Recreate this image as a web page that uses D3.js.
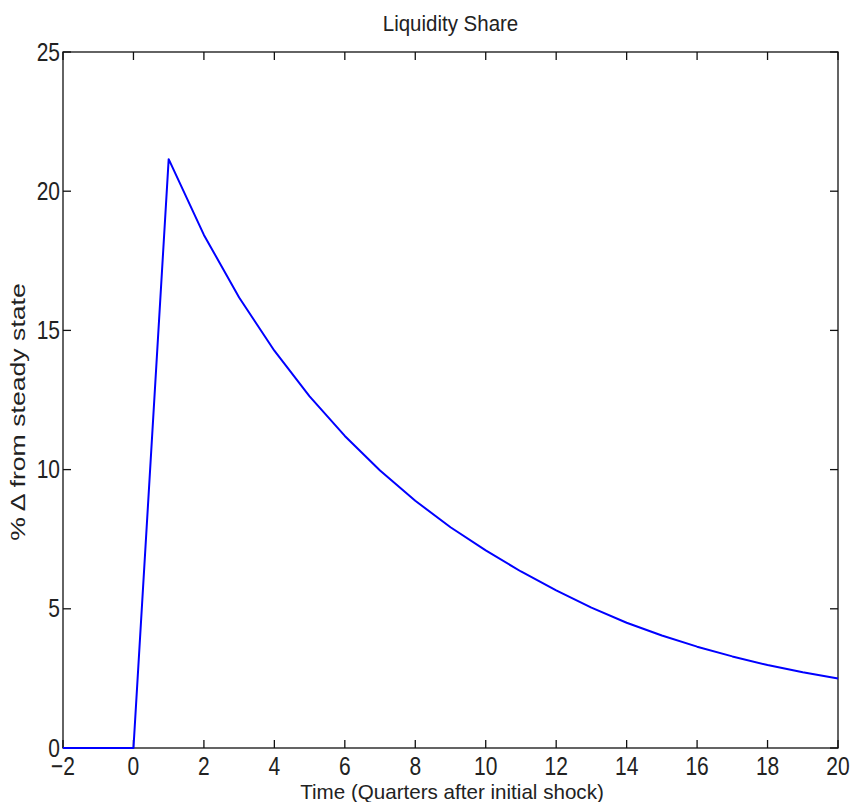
<!DOCTYPE html>
<html>
<head>
<meta charset="utf-8">
<script src="https://cdn.jsdelivr.net/npm/d3@7"></script>
<style>
  html, body { margin: 0; padding: 0; background: #fff; }
  svg { display: block; }
  text { font-family: "Liberation Sans", Arial, Helvetica, sans-serif; fill: #222; }
</style>
</head>
<body>
<svg id="chart" width="850" height="802"></svg>
<script>
const title = "Liquidity Share";
const xLabel = "Time (Quarters after initial shock)";
const yLabel = "% \u0394 from steady state";
const quarters = [-2, -1, 0, 1, 2, 3, 4, 5, 6, 7, 8, 9, 10, 11, 12, 13, 14, 15, 16, 17, 18, 19, 20];
const liquidityShare = [0, 0, 0, 21.15, 18.43, 16.18, 14.27, 12.63, 11.21, 9.97, 8.88, 7.93, 7.1, 6.34, 5.66, 5.04, 4.5, 4.04, 3.64, 3.29, 2.98, 2.72, 2.5];
const xTicks = [-2, 0, 2, 4, 6, 8, 10, 12, 14, 16, 18, 20];
const yTicks = [0, 5, 10, 15, 20, 25];

const svg = d3.select("#chart");
const L = 63, R = 838, T = 52, B = 748;
const x = d3.scaleLinear().domain([-2, 20]).range([L, R]);
const y = d3.scaleLinear().domain([0, 25]).range([B, T]);
const tickLen = 8;

// frame
svg.append("rect").attr("x", L).attr("y", T).attr("width", R - L).attr("height", B - T)
  .attr("fill", "none").attr("stroke", "#111").attr("stroke-width", 1.3);

// ticks
const tg = svg.append("g").attr("stroke", "#111").attr("stroke-width", 1.3);
xTicks.forEach(t => {
  const px = x(t);
  tg.append("line").attr("x1", px).attr("x2", px).attr("y1", B).attr("y2", B - tickLen);
  tg.append("line").attr("x1", px).attr("x2", px).attr("y1", T).attr("y2", T + tickLen);
});
yTicks.forEach(t => {
  const py = y(t);
  tg.append("line").attr("x1", L).attr("x2", L + tickLen).attr("y1", py).attr("y2", py);
  tg.append("line").attr("x1", R).attr("x2", R - tickLen).attr("y1", py).attr("y2", py);
});

// tick labels (slightly tall glyphs, like the reference)
const sy = 1.22;
xTicks.forEach(t => {
  svg.append("text")
    .attr("transform", `translate(${x(t)},${775}) scale(1,${sy})`)
    .attr("text-anchor", "middle")
    .attr("font-size", 21)
    .text(t < 0 ? "\u2212" + Math.abs(t) : t);
});
yTicks.forEach(t => {
  svg.append("text")
    .attr("transform", `translate(${L - 3},${y(t) + 8.5}) scale(1,${sy})`)
    .attr("text-anchor", "end")
    .attr("font-size", 21)
    .text(t);
});

// title
svg.append("text")
  .attr("transform", `translate(${(L + R) / 2},${31}) scale(1,1.12)`)
  .attr("text-anchor", "middle").attr("font-size", 20.5)
  .text(title);

// x label
svg.append("text")
  .attr("x", 452).attr("y", 799)
  .attr("text-anchor", "middle").attr("font-size", 20.6)
  .text(xLabel);

// y label
svg.append("text")
  .attr("transform", `translate(${25},${412}) rotate(-90) scale(1.3,1)`)
  .attr("text-anchor", "middle").attr("font-size", 20.5)
  .text(yLabel);

// line
const data = quarters.map((q, i) => ({ q, v: liquidityShare[i] }));
const line = d3.line().x(d => x(d.q)).y(d => y(d.v)).curve(d3.curveLinear);
svg.append("path").datum(data)
  .attr("d", line)
  .attr("fill", "none")
  .attr("stroke", "#0000ff")
  .attr("stroke-width", 2)
  .attr("stroke-linejoin", "round");
</script>
</body>
</html>
